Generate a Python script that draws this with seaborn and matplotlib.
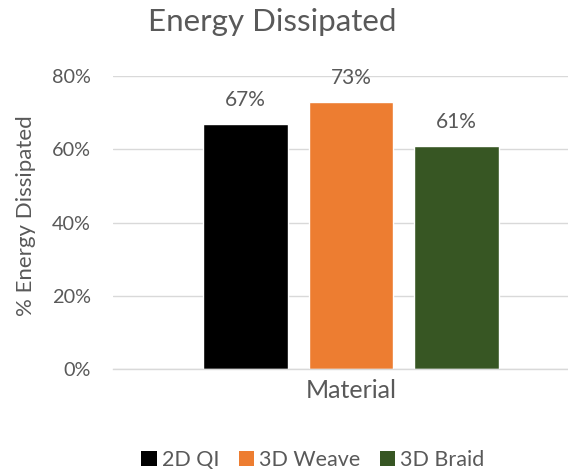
import matplotlib
matplotlib.use("Agg")
import matplotlib.pyplot as plt
import seaborn as sns
import pandas as pd
from matplotlib.patches import Patch
from matplotlib.ticker import PercentFormatter

# Energy dissipated per material type
materials = ["2D QI", "3D Weave", "3D Braid"]
dissipated = [0.67, 0.73, 0.61]
palette = ["#000000", "#ED7D31", "#375623"]
category = ["Material"] * len(materials)

df = pd.DataFrame({"group": category, "material": materials, "value": dissipated})

sns.set_theme(style="white")
plt.rcParams["font.family"] = ["Lato", "DejaVu Sans"]
text_col = "#595959"

fig = plt.figure(figsize=(5.68, 4.71), dpi=100)
ax = fig.add_axes([113 / 568, 102 / 471, 476 / 568, 293 / 471])

sns.barplot(data=df, x="group", y="value", hue="material", hue_order=materials,
            palette=palette, width=0.665, gap=0.196, saturation=1, legend=False, ax=ax)

ax.set_xlim(-0.5, 0.5)
ax.set_ylim(0, 0.8)
ax.set_yticks([0, 0.2, 0.4, 0.6, 0.8])
ax.yaxis.set_major_formatter(PercentFormatter(1.0, decimals=0))
ax.grid(axis="y", color="#d9d9d9", linewidth=1)
ax.set_axisbelow(True)
for side in ["top", "right", "left"]:
    ax.spines[side].set_visible(False)
ax.spines["bottom"].set_color("#d9d9d9")
ax.spines["bottom"].set_linewidth(1)
ax.tick_params(axis="y", length=0, pad=16, labelsize=14.3, labelcolor=text_col)
ax.set_xticks([])
ax.set_xlabel("")
ax.set_ylabel("")

# value labels above each bar
for bar, v in zip(ax.patches, dissipated):
    ax.annotate(f"{v:.0%}", (bar.get_x() + bar.get_width() / 2, v),
                xytext=(0, 17), textcoords="offset points", ha="center", va="center",
                fontsize=15, color=text_col)

fig.text(272 / 568, 1 - 22 / 471, "Energy Dissipated", ha="center", va="center",
         fontsize=22.5, color=text_col)
fig.text(351 / 568, 1 - 391 / 471, "Material", ha="center", va="center",
         fontsize=18, color=text_col)
fig.text(26 / 568, 1 - 216 / 471, "% Energy Dissipated", ha="center", va="center",
         rotation=90, fontsize=16, color=text_col)

handles = [Patch(facecolor=c, edgecolor="none", label=m) for m, c in zip(materials, palette)]
fig.legend(handles=handles, loc="center", bbox_to_anchor=(313 / 568, 1 - 460 / 471),
           ncol=3, frameon=False, fontsize=15.5, labelcolor=text_col,
           handlelength=0.7, handleheight=0.7, handletextpad=0.25, columnspacing=0.9)

fig.savefig("out.png", dpi=100)
